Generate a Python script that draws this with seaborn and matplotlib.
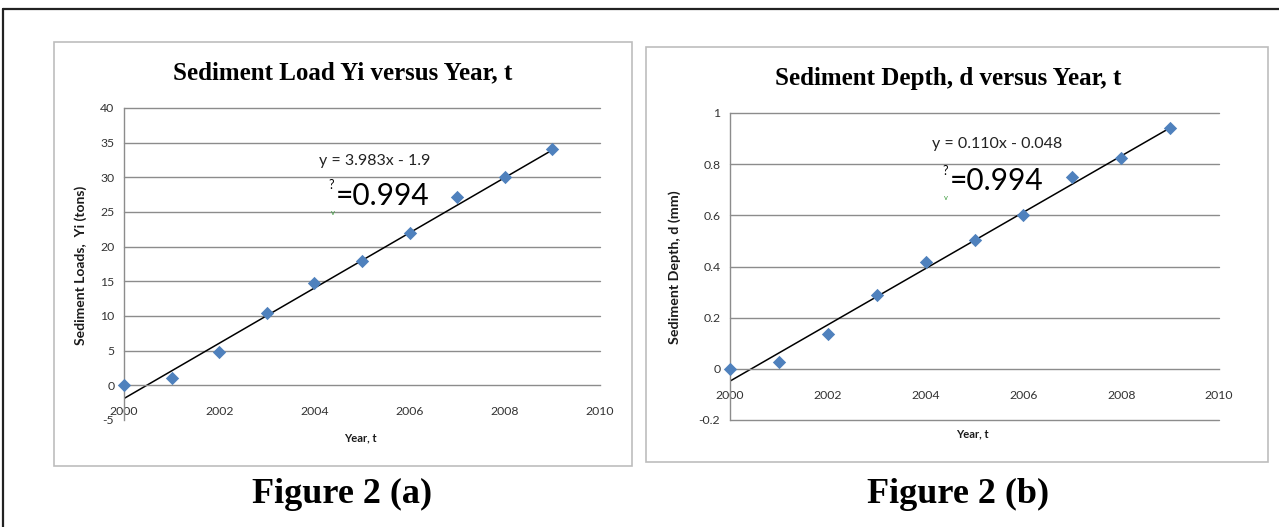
import matplotlib
matplotlib.use("Agg")
import matplotlib.pyplot as plt
import seaborn as sns
import pandas as pd
from matplotlib.patches import Rectangle
from matplotlib.lines import Line2D

# ---- data -------------------------------------------------------------
years = [2000, 2001, 2002, 2003, 2004, 2005, 2006, 2007, 2008, 2009]
load_tons = [0.0, 1.0, 4.8, 10.4, 14.7, 18.0, 22.0, 27.2, 30.0, 34.1]
depth_mm = [0.0, 0.027, 0.136, 0.288, 0.416, 0.502, 0.603, 0.750, 0.826, 0.942]

# linear trend coefficients (x = years since 2000)
slope_load, intercept_load = 3.983, -1.9
slope_depth, intercept_depth = 0.110, -0.048
r2_load, r2_depth = 0.994, 0.994

load_yticks = [-5, 0, 5, 10, 15, 20, 25, 30, 35, 40]
depth_yticks = [-0.2, 0, 0.2, 0.4, 0.6, 0.8, 1]
xticks = [2000, 2002, 2004, 2006, 2008, 2010]

# ---- style ------------------------------------------------------------
sns.set_style("white")
plt.rcParams["font.family"] = ["Lato", "DejaVu Sans"]
plt.rcParams["text.color"] = "black"

W, H = 1279, 527
fig = plt.figure(figsize=(W / 100, H / 100), dpi=100)
fig.patch.set_facecolor("white")


def fx(px):
    return px / W


def fy(py):
    return 1 - py / H


def axes_px(x0, y0, x1, y1):
    return fig.add_axes([fx(x0), fy(y1), fx(x1) - fx(x0), fy(y0) - fy(y1)])


SERIF = ["Liberation Serif", "DejaVu Serif"]
MARKER_BLUE = "#4F81BD"
GRID = "#8C8C8C"
TICK_TXT = "#333333"

# outer frame (top and left edges)
fig.add_artist(Line2D([fx(3), fx(1279)], [fy(9), fy(9)], color="#222222", lw=1.6,
                      transform=fig.transFigure))
fig.add_artist(Line2D([fx(3), fx(3)], [fy(9), fy(527)], color="#222222", lw=1.6,
                      transform=fig.transFigure))

# chart area boxes
for (x0, y0, x1, y1) in [(54, 42, 632, 466), (646, 47, 1268, 462)]:
    fig.add_artist(Rectangle((fx(x0), fy(y1)), fx(x1) - fx(x0), fy(y0) - fy(y1),
                             transform=fig.transFigure, fill=False,
                             edgecolor="#BDBDBD", lw=1.2))


def panel(ax, values, slope, intercept, yticks, ylim, fmt, skip_bottom_grid):
    df = pd.DataFrame({"year": years, "value": values})
    trend = pd.DataFrame({"year": years,
                          "value": [slope * (t - years[0]) + intercept for t in years]})
    ax.set_xlim(2000, 2010)
    ax.set_ylim(*ylim)
    for yv in yticks:
        if yv == 0:
            continue
        if skip_bottom_grid and yv == yticks[0]:
            continue
        ax.axhline(yv, color=GRID, lw=1.0, zorder=0, clip_on=False)
    sns.lineplot(data=trend, x="year", y="value", ax=ax, color="black", lw=1.1,
                 zorder=2)
    sns.scatterplot(data=df, x="year", y="value", ax=ax, marker="D", s=46,
                    color=MARKER_BLUE, edgecolor=MARKER_BLUE, linewidth=0, zorder=3,
                    clip_on=False)
    for side in ["top", "right"]:
        ax.spines[side].set_visible(False)
    ax.spines["bottom"].set_position(("data", 0))
    ax.spines["bottom"].set_color(GRID)
    ax.spines["left"].set_color(GRID)
    ax.spines["bottom"].set_linewidth(1.0)
    ax.spines["left"].set_linewidth(1.0)
    ax.set_xticks(xticks)
    ax.set_yticks(yticks)
    ax.set_yticklabels([fmt(v) for v in yticks])
    ax.tick_params(axis="both", length=0, labelsize=8.8, colors=TICK_TXT, pad=7)
    ax.tick_params(axis="x", pad=15)
    ax.set_xlabel("")
    ax.set_ylabel("")
    ax.patch.set_alpha(0)


# ---- panel (a) --------------------------------------------------------
ax_a = axes_px(124, 108, 600, 420)
panel(ax_a, load_tons, slope_load, intercept_load, load_yticks, (-5, 40),
      lambda v: f"{v:g}", True)

fig.text(fx(343), fy(73), "Sediment Load Yi versus Year, t", family=SERIF,
         weight="bold", fontsize=18, ha="center", va="center", color="black")
fig.text(fx(81), fy(265), "Sediment Loads,  Yi (tons)", rotation=90, weight="bold",
         fontsize=10, ha="center", va="center", color="#1a1a1a")
fig.text(fx(360), fy(438), "Year, t", weight="bold", fontsize=8, ha="center",
         va="center", color="#1a1a1a")
fig.text(fx(375), fy(161), f"y = {slope_load:.3f}x - {abs(intercept_load):g}",
         fontsize=11.5, ha="center", va="center", color="#222222")
fig.text(fx(336), fy(196), f"={r2_load:.3f}", fontsize=21.5, ha="left", va="center",
         color="black")
fig.text(fx(331), fy(185), "?", fontsize=9, ha="center", va="center", color="black")
fig.text(fx(333), fy(212), "v", fontsize=5.5, ha="center", va="center", color="#3A9A3A")
fig.text(fx(342), fy(494), "Figure 2 (a)", family=SERIF, weight="bold", fontsize=26,
         ha="center", va="center", color="black")

# ---- panel (b) --------------------------------------------------------
ax_b = axes_px(730, 113, 1219, 420)
panel(ax_b, depth_mm, slope_depth, intercept_depth, depth_yticks, (-0.2, 1),
      lambda v: f"{v:g}", False)

fig.text(fx(948), fy(78), "Sediment Depth, d versus Year, t", family=SERIF,
         weight="bold", fontsize=18, ha="center", va="center", color="black")
fig.text(fx(675), fy(267), "Sediment Depth, d (mm)", rotation=90, weight="bold",
         fontsize=10.3, ha="center", va="center", color="#1a1a1a")
fig.text(fx(972), fy(434), "Year, t", weight="bold", fontsize=8, ha="center",
         va="center", color="#1a1a1a")
fig.text(fx(997), fy(144), f"y = {slope_depth:.3f}x - {abs(intercept_depth):.3f}",
         fontsize=11.5, ha="center", va="center", color="#222222")
fig.text(fx(950), fy(181), f"={r2_depth:.3f}", fontsize=21.5, ha="left", va="center",
         color="black")
fig.text(fx(945), fy(171), "?", fontsize=9, ha="center", va="center", color="black")
fig.text(fx(946), fy(197), "v", fontsize=5.5, ha="center", va="center", color="#3A9A3A")
fig.text(fx(958), fy(494), "Figure 2 (b)", family=SERIF, weight="bold", fontsize=26,
         ha="center", va="center", color="black")

fig.savefig("out.png", dpi=100)
